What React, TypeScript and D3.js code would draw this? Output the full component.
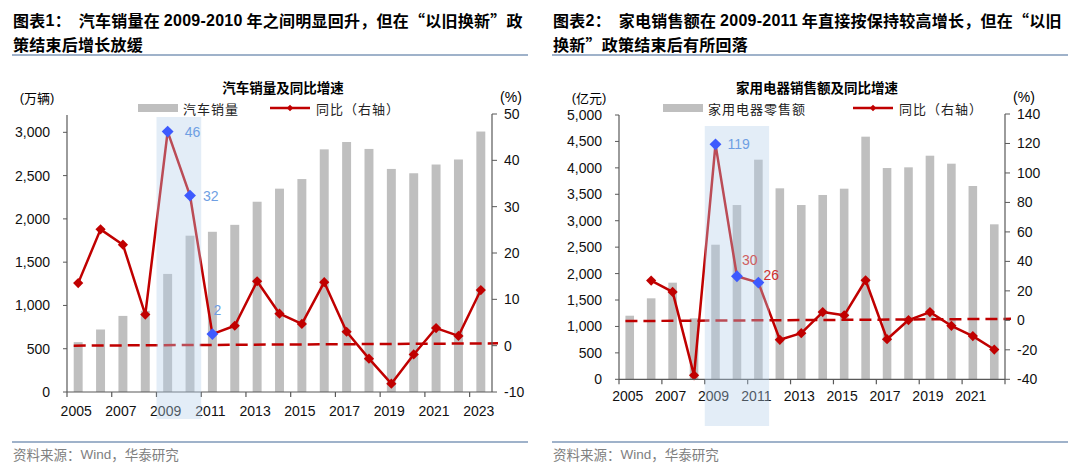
import * as d3 from "d3";

// ---- data: 汽车销量 (万辆) 与同比 (%)
const carYears = ["2005", "2006", "2007", "2008", "2009", "2010", "2011", "2012", "2013", "2014", "2015", "2016", "2017", "2018", "2019", "2020", "2021", "2022", "2023"];
const carSales = [576, 722, 879, 938, 1364, 1806, 1851, 1931, 2198, 2349, 2460, 2803, 2888, 2808, 2577, 2527, 2628, 2686, 3009];
const carYoy = [13.5, 25.1, 21.8, 6.7, 46.2, 32.4, 2.5, 4.3, 13.9, 6.9, 4.7, 13.7, 3.0, -2.8, -8.2, -1.9, 3.8, 2.1, 12.0];
const carLeftTicks = [0, 500, 1000, 1500, 2000, 2500, 3000];
const carRightTicks = [-10, 0, 10, 20, 30, 40, 50];
const carYearLabels = ["2005", "2007", "2009", "2011", "2013", "2015", "2017", "2019", "2021", "2023"];
const carHighlight = ["2009", "2010"];
const carMarked = ["2009", "2010", "2011"];
const carNotes = ["46", "32", "2"];
const carBaseline = [0, 0.5];

// ---- data: 家用电器零售额 (亿元) 与同比 (%)
const homeYears = ["2005", "2006", "2007", "2008", "2009", "2010", "2011", "2012", "2013", "2014", "2015", "2016", "2017", "2018", "2019", "2020", "2021", "2022"];
const homeSales = [1203, 1532, 1828, 1154, 2546, 3297, 4155, 3613, 3297, 3487, 3606, 4590, 3997, 4010, 4230, 4079, 3657, 2932];
const homeYoy = [null, 27.0, 19.3, -37.3, 119.4, 29.9, 25.6, -13.2, -8.7, 5.6, 3.4, 27.2, -12.8, 0.2, 5.6, -3.7, -10.7, -19.8];
const homeLeftTicks = [0, 500, 1000, 1500, 2000, 2500, 3000, 3500, 4000, 4500, 5000];
const homeRightTicks = [-40, -20, 0, 20, 40, 60, 80, 100, 120, 140];
const homeYearLabels = ["2005", "2007", "2009", "2011", "2013", "2015", "2017", "2019", "2021"];
const homeHighlight = ["2009", "2011"];
const homeMarked = ["2009", "2010", "2011"];
const homeNotes = ["119", "30", "26"];
const homeBaseline = [-0.5, 1];

const NUM = "'Liberation Sans', Arial, sans-serif";
const CJK = "'Noto Sans CJK SC', sans-serif";
const RED = "#c00000";
const BLUE = "#3d5afe";
const GRAY = "#bfbfbf";
const AXIS = "#595959";

// latin runs in Arial, the rest in the CJK face
function Mixed({ text }: { text: string }) {
  const parts = text.split(/([0-9A-Za-z\-]+)/).filter((p) => p.length);
  return (
    <>
      {parts.map((p, i) => (
        <tspan key={i} fontFamily={/^[0-9A-Za-z\-]+$/.test(p) ? NUM : CJK}>
          {p}
        </tspan>
      ))}
    </>
  );
}

const diamond = (area: number) => d3.symbol(d3.symbolSquare, area)() ?? "";

interface PanelCfg {
  x0: number;
  title: string[];
  chartTitle: string;
  unitLeft: string;
  barName: string;
  years: string[];
  bars: number[];
  yoy: (number | null)[];
  leftTicks: number[];
  rightTicks: number[];
  yearLabels: string[];
  highlight: string[];
  marked: string[];
  notes: string[];
  baseline: number[];
  left: number;
  right: number;
  top: number;
  bottom: number;
  leftMax: number;
  hlTop: number;
  hlBottom: number;
  yearY: number;
  legendBarX: number;
  legendLineX: number;
  chartTitleX: number;
  noteOffsets: { dx: number; dy: number; color: string }[];
}

function Panel({ c }: { c: PanelCfg }) {
  const x = d3.scaleBand<string>().domain(c.years).range([c.left, c.right]);
  const bw = x.bandwidth();
  const cx = (y: string) => (x(y) ?? 0) + bw / 2;
  const yL = d3.scaleLinear().domain([0, c.leftMax]).range([c.bottom, c.top]);
  const yR = d3
    .scaleLinear()
    .domain([c.rightTicks[0], c.rightTicks[c.rightTicks.length - 1]])
    .range([c.bottom, c.top - 1]);

  const line = d3
    .line<number | null>()
    .defined((v) => v != null)
    .x((_, i) => cx(c.years[i]))
    .y((v) => yR(v as number));

  const boundaries = d3.range(0, c.years.length + 1, 2).map((i) => c.left + i * bw);
  const hx0 = x(c.highlight[0]) ?? 0;
  const hx1 = (x(c.highlight[c.highlight.length - 1]) ?? 0) + bw;
  const fmt = d3.format(",");
  const legendY = 108;

  return (
    <g>
      {/* heading */}
      {c.title.map((t, i) => (
        <text
          key={i}
          x={c.x0 + 13}
          y={20 + i * 24}
          dominantBaseline="central"
          fontSize={16}
          fontWeight="bold"
          letterSpacing={0.25}
          fill="#000"
          style={{ whiteSpace: "pre" }}
        >
          <Mixed text={t} />
        </text>
      ))}
      <line x1={c.x0 + 12} x2={c.x0 + 528} y1={55} y2={55} stroke="#7f98b8" strokeWidth={1.5} />

      <text x={c.chartTitleX} y={87} textAnchor="middle" dominantBaseline="central" fontFamily={CJK} fontSize={13.5} fontWeight="bold">
        {c.chartTitle}
      </text>
      <text x={c.left - 30} y={97} textAnchor="middle" dominantBaseline="central" fontSize={13}>
        <tspan fontFamily={NUM}>(</tspan>
        <tspan fontFamily={CJK}>{c.unitLeft}</tspan>
        <tspan fontFamily={NUM}>)</tspan>
      </text>
      <text x={c.right + 19} y={97} textAnchor="middle" dominantBaseline="central" fontFamily={NUM} fontSize={14}>
        (%)
      </text>

      {/* legend */}
      <rect x={c.legendBarX} y={legendY - 4} width={40} height={8} fill={GRAY} />
      <text x={c.legendBarX + 45} y={legendY} dominantBaseline="central" fontFamily={CJK} fontSize={13} letterSpacing={1} fill="#222">
        {c.barName}
      </text>
      <line x1={c.legendLineX} x2={c.legendLineX + 40} y1={legendY} y2={legendY} stroke={RED} strokeWidth={2.5} />
      <path d={diamond(22)} transform={`translate(${c.legendLineX + 20},${legendY}) rotate(45)`} fill={RED} />
      <text x={c.legendLineX + 46} y={legendY} dominantBaseline="central" fontFamily={CJK} fontSize={13} letterSpacing={1} fill="#222">
        同比（右轴）
      </text>

      {/* bars */}
      {c.bars.map((v, i) => (
        <rect key={i} x={cx(c.years[i]) - bw * 0.2} y={yL(v)} width={bw * 0.4} height={yL(0) - yL(v)} fill={GRAY} />
      ))}

      {/* zero reference */}
      <line
        x1={(x(c.years[0]) ?? 0) + bw * 0.3}
        x2={c.right + 6}
        y1={yR(c.baseline[0])}
        y2={yR(c.baseline[1])}
        stroke={RED}
        strokeWidth={2.5}
        strokeDasharray="12,6"
      />

      {/* yoy line */}
      <path d={line(c.yoy) ?? ""} fill="none" stroke={RED} strokeWidth={2.5} strokeLinejoin="round" />
      {c.yoy.map((v, i) =>
        v == null || c.marked.includes(c.years[i]) ? null : (
          <path key={i} d={diamond(52)} transform={`translate(${cx(c.years[i])},${yR(v)}) rotate(45)`} fill={RED} />
        ),
      )}

      {/* axes */}
      <line x1={c.left} x2={c.right} y1={c.bottom} y2={c.bottom} stroke={AXIS} strokeWidth={1.2} />
      {boundaries.map((bx, i) => (
        <line key={i} x1={bx} x2={bx} y1={c.bottom} y2={c.bottom + 5} stroke={AXIS} strokeWidth={1.2} />
      ))}
      {c.yearLabels.map((yr) => (
        <text key={yr} x={cx(yr) - 2} y={c.yearY} textAnchor="middle" dominantBaseline="central" fontFamily={NUM} fontSize={14} fill="#111">
          {yr}
        </text>
      ))}

      <line x1={c.left} x2={c.left} y1={c.top} y2={c.bottom} stroke={AXIS} strokeWidth={1.2} />
      {c.leftTicks.map((t) => (
        <g key={t}>
          <line x1={c.left - 4} x2={c.left} y1={yL(t)} y2={yL(t)} stroke={AXIS} strokeWidth={1} />
          <text x={c.left - 17} y={yL(t)} textAnchor="end" dominantBaseline="central" fontFamily={NUM} fontSize={14} fill="#111">
            {fmt(t)}
          </text>
        </g>
      ))}

      <line x1={c.right} x2={c.right} y1={c.top - 1} y2={c.bottom} stroke={AXIS} strokeWidth={1.2} />
      {c.rightTicks.map((t) => (
        <g key={t}>
          <line x1={c.right} x2={c.right + 5} y1={yR(t)} y2={yR(t)} stroke={AXIS} strokeWidth={1} />
          <text x={c.right + 12} y={yR(t)} dominantBaseline="central" fontFamily={NUM} fontSize={14} fill="#111">
            {t}
          </text>
        </g>
      ))}

      {/* highlighted period */}
      <rect x={hx0} y={c.hlTop} width={hx1 - hx0} height={c.hlBottom - c.hlTop} fill="#b3cee9" opacity={0.37} />

      {c.marked.map((yr, k) => {
        const i = c.years.indexOf(yr);
        const v = c.yoy[i] as number;
        const o = c.noteOffsets[k];
        return (
          <g key={yr}>
            <path d={diamond(70)} transform={`translate(${cx(yr)},${yR(v)}) rotate(45)`} fill={BLUE} />
            <text x={cx(yr) + o.dx} y={yR(v) + o.dy} dominantBaseline="central" fontFamily={NUM} fontSize={14} fill={o.color}>
              {c.notes[k]}
            </text>
          </g>
        );
      })}

      {/* source */}
      <line x1={c.x0 + 12} x2={c.x0 + 528} y1={442} y2={442} stroke="#7f98b8" strokeWidth={1.5} />
      <text x={c.x0 + 13} y={454} dominantBaseline="central" fontSize={13.5} fill="#808080">
        <Mixed text="资料来源：Wind，华泰研究" />
      </text>
    </g>
  );
}

const carCfg: PanelCfg = {
  x0: 0,
  title: ["图表1：  汽车销量在 2009-2010 年之间明显回升，但在“以旧换新”政", "策结束后增长放缓"],
  chartTitle: "汽车销量及同比增速",
  unitLeft: "万辆",
  barName: "汽车销量",
  years: carYears,
  bars: carSales,
  yoy: carYoy,
  leftTicks: carLeftTicks,
  rightTicks: carRightTicks,
  yearLabels: carYearLabels,
  highlight: carHighlight,
  marked: carMarked,
  notes: carNotes,
  baseline: carBaseline,
  left: 67,
  right: 492,
  top: 115,
  bottom: 392,
  leftMax: 3200,
  hlTop: 117,
  hlBottom: 419,
  yearY: 411,
  legendBarX: 138,
  legendLineX: 270,
  chartTitleX: 283,
  noteOffsets: [
    { dx: 17, dy: 0, color: "#6f9fe3" },
    { dx: 13, dy: 0, color: "#6f9fe3" },
    { dx: 1, dy: -24, color: "#6f9fe3" },
  ],
};

const homeCfg: PanelCfg = {
  x0: 540,
  title: ["图表2：  家电销售额在 2009-2011 年直接按保持较高增长，但在“以旧", "换新”政策结束后有所回落"],
  chartTitle: "家用电器销售额及同比增速",
  unitLeft: "亿元",
  barName: "家用电器零售额",
  years: homeYears,
  bars: homeSales,
  yoy: homeYoy,
  leftTicks: homeLeftTicks,
  rightTicks: homeRightTicks,
  yearLabels: homeYearLabels,
  highlight: homeHighlight,
  marked: homeMarked,
  notes: homeNotes,
  baseline: homeBaseline,
  left: 619,
  right: 1005,
  top: 115,
  bottom: 379.3,
  leftMax: 5000,
  hlTop: 126,
  hlBottom: 426,
  yearY: 396,
  legendBarX: 663,
  legendLineX: 853,
  chartTitleX: 817,
  noteOffsets: [
    { dx: 12, dy: 0, color: "#6f9fe3" },
    { dx: 5, dy: -16, color: "#cf6060" },
    { dx: 5, dy: -8, color: "#d03030" },
  ],
};

export default function App() {
  return (
    <svg
      width={1080}
      height={469}
      viewBox="0 0 1080 469"
      style={{ position: "absolute", left: 0, top: 0, background: "#fff", display: "block" }}
    >
      <rect width={1080} height={469} fill="#fff" />
      <Panel c={carCfg} />
      <Panel c={homeCfg} />
    </svg>
  );
}
